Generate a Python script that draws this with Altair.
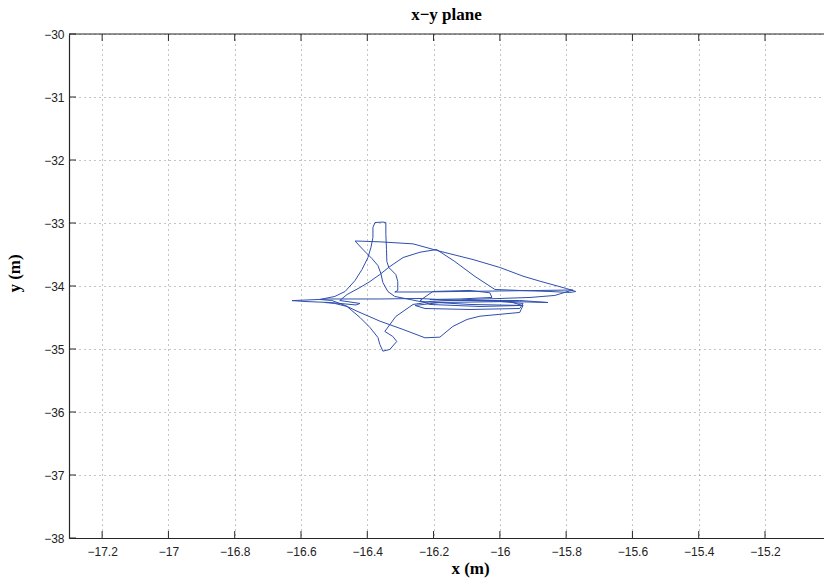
import altair as alt
import pandas as pd

# trajectory (x, y) in metres
xs = [-16.000, -15.930, -15.940, -16.090, -16.226, -16.256, -16.181, -15.970, -15.933, -16.060,
      -16.211, -16.241, -16.202, -16.090, -16.030, -16.024, -16.121, -16.211, -15.855, -15.940, -16.136,
      -16.241, -16.362, -16.513, -16.627, -16.588, -16.513, -16.434, -16.422, -16.483,
      -16.461, -16.422, -16.392, -16.362, -16.332, -16.292, -16.241, -16.191, -16.136, -16.075,
      -16.015, -15.940, -15.849, -15.789, -15.771,
      -15.799, -15.879, -15.930, -16.000, -16.081, -16.181, -16.262, -16.362, -16.416, -16.437,
      -16.413, -16.386, -16.368, -16.359, -16.353, -16.338, -16.317, -16.241, -16.090, -15.930, -15.936,
      -15.940, -16.060, -16.099, -16.142, -16.181, -16.226, -16.292, -16.362, -16.431, -16.467, -16.507, -16.543,
      -16.498, -16.467, -16.437, -16.416, -16.398, -16.389, -16.383, -16.383, -16.377, -16.353, -16.344,
      -16.344, -16.342, -16.341, -16.335, -16.314, -16.308, -16.308, -16.317,
      -16.241, -16.121, -16.000, -15.879, -15.780,
      -15.834, -15.909, -16.090, -16.211, -16.241,
      -16.262, -16.314, -16.347, -16.323, -16.311, -16.332, -16.353, -16.362, -16.368, -16.392, -16.422,
      -16.461, -16.498, -16.528]
ys = [-34.246, -34.277, -34.357, -34.373, -34.357, -34.309, -34.262, -34.246, -34.309, -34.325,
      -34.293, -34.230, -34.087, -34.071, -34.108, -34.182, -34.206, -34.214, -34.262, -34.230, -34.230,
      -34.198, -34.206, -34.206, -34.232, -34.246, -34.262, -34.301, -34.277, -34.230,
      -34.135, -34.024, -33.929, -33.817, -33.691, -33.548, -33.464, -33.421, -33.611, -33.849,
      -34.055, -34.071, -34.087, -34.103, -34.087,
      -34.040, -33.924, -33.844, -33.706, -33.580, -33.448, -33.331, -33.299, -33.289, -33.286,
      -33.421, -33.564, -33.675, -33.802, -33.944, -34.087, -34.166, -34.246, -34.293, -34.309, -34.373,
      -34.420, -34.479, -34.531, -34.642, -34.812, -34.822, -34.690, -34.558, -34.400, -34.309, -34.230, -34.214,
      -34.166, -34.087, -33.913, -33.738, -33.548, -33.389, -33.231, -33.072, -32.993, -32.985, -32.993,
      -33.183, -33.421, -33.611, -33.706, -33.817, -33.929, -34.071, -34.095,
      -34.095, -34.087, -34.079, -34.071, -34.063,
      -34.150, -34.182, -34.214, -34.246, -34.277,
      -34.293, -34.484, -34.721, -34.801, -34.880, -35.007, -35.034, -34.928, -34.817, -34.658, -34.500,
      -34.325, -34.277, -34.262]

x_ticks = [-17.2, -17.0, -16.8, -16.6, -16.4, -16.2, -16.0, -15.8, -15.6, -15.4, -15.2]
y_ticks = [-38, -37, -36, -35, -34, -33, -32, -31, -30]

W, H = 755, 504
df = pd.DataFrame({"x": xs, "y": ys, "i": list(range(len(xs)))})
xt = pd.DataFrame({"x": x_ticks})
yt = pd.DataFrame({"y": y_ticks})

xscale = alt.Scale(domain=[-17.3, -15.022], nice=False, zero=False)
yscale = alt.Scale(domain=[-38, -30], nice=False, zero=False)

common = dict(grid=True, gridDash=[1, 4], gridColor="#8a8a8a", gridWidth=1,
              ticks=False, domainColor="#262626", domainWidth=1.2,
              labelFont="Liberation Sans", labelFontSize=12, labelColor="#222222",
              titleFont="Liberation Serif", titleFontSize=17, titleFontWeight="bold",
              titleColor="#000000", titleBaseline="alphabetic", titleAlign="center")

x_axis = alt.Axis(values=x_ticks, format=".1~f", labelPadding=8,
                  title="x (m)", titleX=401, titleY=35, **common)
y_axis = alt.Axis(values=y_ticks, format="d", labelPadding=5,
                  title="y (m)", titleX=-50, titleY=239, titleAngle=270, **common)

X = alt.X("x:Q", scale=xscale, axis=x_axis)
Y = alt.Y("y:Q", scale=yscale, axis=y_axis)

line = alt.Chart(df).mark_line(color="#2e4fae", strokeWidth=1).encode(
    x=X, y=Y, order="i:Q")

tick_col = "#262626"
xb = alt.Chart(xt).mark_rule(color=tick_col, strokeWidth=1).encode(
    x=X, y=alt.value(H), y2=alt.value(H - 7))
xtop = alt.Chart(xt).mark_rule(color=tick_col, strokeWidth=1).encode(
    x=X, y=alt.value(0), y2=alt.value(7))
yl = alt.Chart(yt).mark_rule(color=tick_col, strokeWidth=1).encode(
    y=Y, x=alt.value(0), x2=alt.value(7))
top = alt.Chart(pd.DataFrame({"a": [0]})).mark_rule(color="#262626", strokeWidth=1.2).encode(
    x=alt.value(0), x2=alt.value(W), y=alt.value(0))

chart = alt.layer(line, xb, xtop, yl, top).properties(
    width=W, height=H,
    padding={"left": 69, "top": 34, "right": 0, "bottom": 41},
    autosize=alt.AutoSizeParams(type="none"),
    title=alt.TitleParams("x\u2212y plane", font="Liberation Serif", fontSize=17,
                          fontWeight="bold", anchor="middle",
                          offset=4, color="#000000"),
).configure_view(stroke=None)

chart.save("out.html", embed_options={"renderer": "svg", "actions": False})
